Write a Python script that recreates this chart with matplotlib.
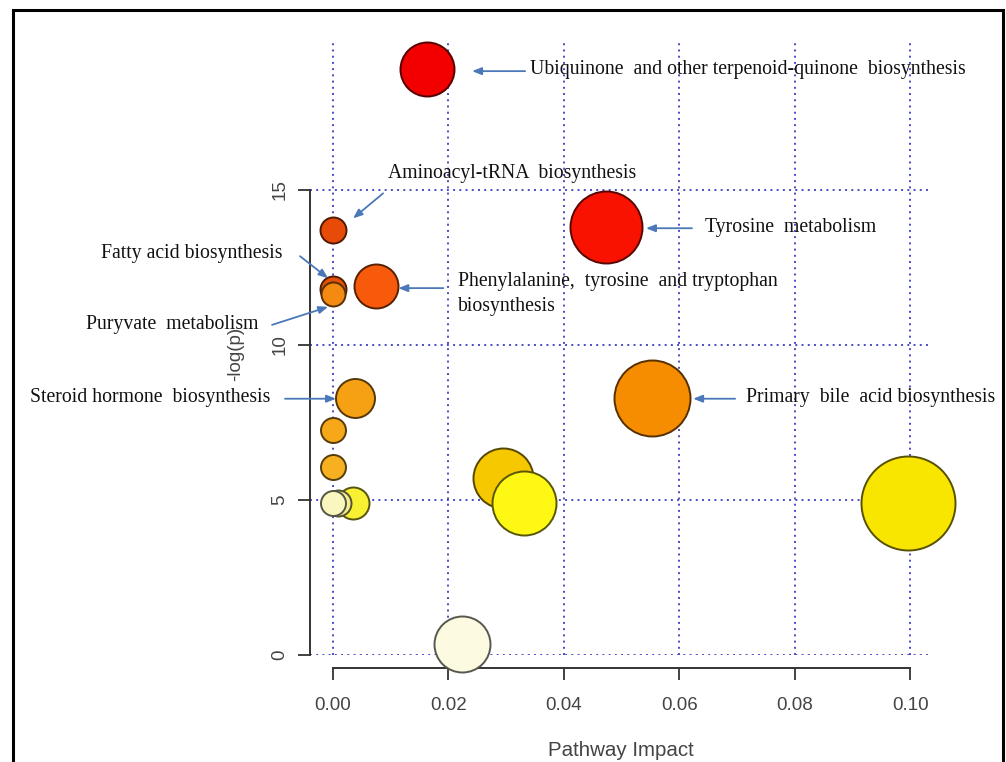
import matplotlib.pyplot as plt
import matplotlib.patches as mpatches
from matplotlib.transforms import offset_copy
import numpy as np

# Pathway impact bubble data
pathway_impact = [0.0163, 0.0473, 0.0, 0.0, 0.0, 0.0075, 0.0038, 0.0553,
                  0.0, 0.0, 0.0035, 0.0009, 0.0, 0.0295, 0.0331, 0.0997, 0.0224]
neg_log_p = [18.9, 13.8, 13.7, 11.8, 11.65, 11.9, 8.3, 8.3,
             7.25, 6.05, 4.9, 4.9, 4.9, 5.7, 4.9, 4.9, 0.35]
bubble_radius = [27, 36, 13, 13, 12, 22, 19.5, 38,
                 12.5, 12.5, 16, 13, 12.5, 30, 32, 47, 28]
bubble_color = ['#f20000', '#fa1200', '#e84a08', '#e65006', '#f58a12', '#f75a0a',
                '#f6a014', '#f68c00', '#f6a818', '#f6b020', '#f8f030', '#f6ee90',
                '#faf6c0', '#f6c800', '#fff814', '#f8e600', '#fcfae0']

# labels: bubble index, text, text offset, alignment, arrow tail, arrow head (pixels, y down)
label_index = [0, 2, 1, 3, 5, 4, 6, 7]
label_text = ['Ubiquinone  and other terpenoid-quinone  biosynthesis',
              'Aminoacyl-tRNA  biosynthesis',
              'Tyrosine  metabolism',
              'Fatty acid biosynthesis',
              'Phenylalanine,  tyrosine  and tryptophan\nbiosynthesis',
              'Puryvate  metabolism',
              'Steroid hormone  biosynthesis',
              'Primary  bile  acid biosynthesis']
label_pos = [(103, 0, 'left'), (55, -57, 'left'), (99, 0, 'left'), (-51, -36, 'right'),
             (82, 8, 'left'), (-75, 31, 'right'), (-85, 0, 'right'), (94, 0, 'left')]
arrow_tail = [(98, 2), (50, -37), (86, 1), (-33, -33), (67, 2), (-61, 31), (-70, 1), (83, 1)]
arrow_head = [(45, 2), (20, -12), (40, 1), (-5, -11), (22, 2), (-5, 13), (-19, 1), (41, 1)]

x_ticks = [0.0, 0.02, 0.04, 0.06, 0.08, 0.10]
y_ticks = [0, 5, 10, 15]

W, H = 1006, 762
fig = plt.figure(figsize=(W / 100, H / 100), dpi=100)
ax = fig.add_axes([310 / W, 1 - 655 / H, 622 / W, 615 / H])
ax.set_xlim(-0.004, 0.1038)
ax.set_ylim(0, 19.84)

# dotted blue grid
ax.set_axisbelow(True)
ax.grid(True, color='#4a4ac4', linestyle=(0, (1, 2.2)), linewidth=1.4)

# R-style detached axes
for side in ['top', 'right']:
    ax.spines[side].set_visible(False)
ax.spines['left'].set_bounds(0, 15)
ax.spines['bottom'].set_bounds(0, 0.10)
ax.spines['bottom'].set_position(('outward', 9.4))
for side in ['left', 'bottom']:
    ax.spines[side].set_color('#333333')
    ax.spines[side].set_linewidth(1.4)

ax.set_xticks(x_ticks)
ax.set_xticklabels(['%.2f' % v for v in x_ticks])
ax.set_yticks(y_ticks)
ax.set_yticklabels([str(v) for v in y_ticks], rotation=90, va='center')
ax.tick_params(axis='both', length=8.6, width=1.3, color='#333333',
               labelcolor='#444444', labelsize=13.5)
ax.tick_params(axis='x', pad=12)
ax.tick_params(axis='y', pad=7)
for lab in ax.get_xticklabels() + ax.get_yticklabels():
    lab.set_family('Liberation Sans')

ax.set_xlabel('Pathway Impact', fontsize=14.8, color='#444444', family='Liberation Sans')
ax.xaxis.set_label_coords(0.5, -0.155)
ax.xaxis.label.set_va('center')
ax.set_ylabel('-log(p)', fontsize=13.5, color='#444444', family='Liberation Sans')
ax.yaxis.set_label_coords(-0.12, 0.49)
ax.yaxis.label.set_va('center')

# bubbles
for i in range(len(pathway_impact)):
    face = np.array(plt.matplotlib.colors.to_rgb(bubble_color[i]))
    edge = face * 0.35
    d_pt = 2 * bubble_radius[i] * 0.72
    ax.scatter([pathway_impact[i]], [neg_log_p[i]], s=d_pt ** 2, c=[face],
               edgecolors=[edge], linewidths=1.4, zorder=3 + i * 0.01, clip_on=False)

# annotation labels with arrows
for k, i in enumerate(label_index):
    bx, by = pathway_impact[i], neg_log_p[i]
    tx, ty, ha = label_pos[k]
    ax.text(bx, by, label_text[k], ha=ha, va='center', fontsize=14.2,
            family='Liberation Serif', color='#111111', linespacing=1.38,
            transform=offset_copy(ax.transData, fig=fig, x=tx, y=-ty, units='dots'),
            zorder=5, clip_on=False)
    hx, hy = arrow_head[k]
    sx, sy = arrow_tail[k]
    ax.annotate('', xy=(bx, by),
                xycoords=offset_copy(ax.transData, fig=fig, x=hx, y=-hy, units='dots'),
                xytext=(bx, by),
                textcoords=offset_copy(ax.transData, fig=fig, x=sx, y=-sy, units='dots'),
                arrowprops=dict(arrowstyle='-|>,head_length=0.55,head_width=0.22',
                                color='#4a78b8', lw=1.3, shrinkA=0, shrinkB=0),
                annotation_clip=False, zorder=5)

# outer black frame
frame = mpatches.Rectangle((13 / W, -0.02), 990 / W, 1 - 10 / H + 0.02,
                           transform=fig.transFigure, fill=False,
                           edgecolor='black', linewidth=2.2)
fig.add_artist(frame)

fig.savefig('out.png', dpi=100)
